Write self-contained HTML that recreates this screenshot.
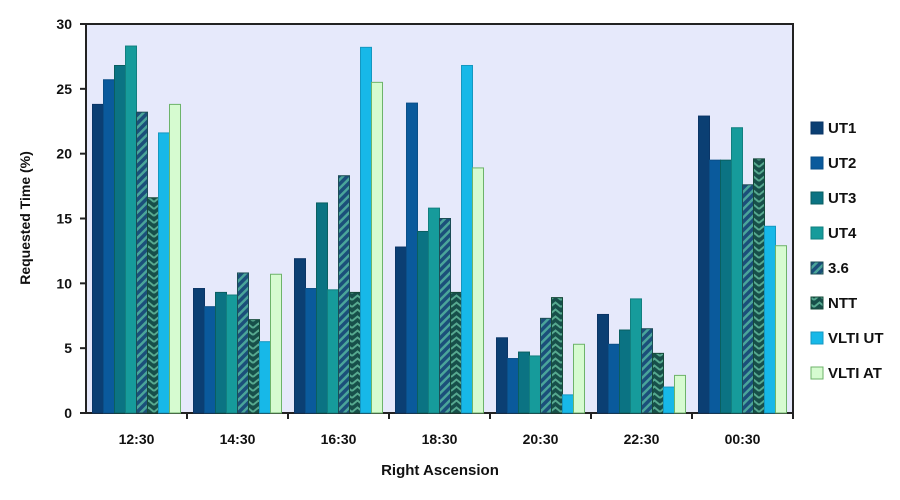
<!DOCTYPE html>
<html><head><meta charset="utf-8"><style>
html,body{margin:0;padding:0;background:#fff;}
svg{display:block;font-family:"Liberation Sans",sans-serif;}
</style></head><body>
<svg id="chart" width="900" height="500">
<defs>
<pattern id="p36" width="6" height="6" patternUnits="userSpaceOnUse" patternTransform="rotate(45)">
<rect width="6" height="6" fill="#1b4f7a"/><rect width="2.5" height="6" fill="#4aa59a"/>
</pattern>
<pattern id="pntt" width="11" height="7" patternUnits="userSpaceOnUse">
<rect width="11" height="7" fill="#174f4a"/>
<path d="M0,6 L5.5,1.5 L11,6" fill="none" stroke="#56a98f" stroke-width="2"/>
</pattern>
</defs>
<rect x="86" y="24" width="707" height="389" fill="#e6e9fb" stroke="#222" stroke-width="2"/>
<g id="bars"></g>
<g id="axes"></g>
<text x="30" y="218" transform="rotate(-90 30 218)" text-anchor="middle" font-size="14" font-weight="bold" fill="#111">Requested Time (%)</text>
<text x="440" y="475" text-anchor="middle" font-size="15" font-weight="bold" fill="#111">Right Ascension</text>
<g id="legend"></g>
</svg>
<script>
const categories = ["12:30","14:30","16:30","18:30","20:30","22:30","00:30"];
const seriesNames = ["UT1","UT2","UT3","UT4","3.6","NTT","VLTI UT","VLTI AT"];
const UT1 = [23.8, 9.6, 11.9, 12.8, 5.8, 7.6, 22.9];
const UT2 = [25.7, 8.2, 9.6, 23.9, 4.2, 5.3, 19.5];
const UT3 = [26.8, 9.3, 16.2, 14.0, 4.7, 6.4, 19.5];
const UT4 = [28.3, 9.1, 9.5, 15.8, 4.4, 8.8, 22.0];
const T36 = [23.2, 10.8, 18.3, 15.0, 7.3, 6.5, 17.6];
const NTT = [16.6, 7.2, 9.3, 9.3, 8.9, 4.6, 19.6];
const VLTIUT = [21.6, 5.5, 28.2, 26.8, 1.4, 2.0, 14.4];
const VLTIAT = [23.8, 10.7, 25.5, 18.9, 5.3, 2.9, 12.9];
const yTicks = [0,5,10,15,20,25,30];

const series = [UT1,UT2,UT3,UT4,T36,NTT,VLTIUT,VLTIAT];
const fills = ["#0b3f73","#0a5a9c","#0b7383","#169b9b","url(#p36)","url(#pntt)","#17b8e8","#d6fbd0"];
const strokes = ["#0b3566","#0a4f88","#0a5f60","#127f7f","#1c4d55","#164a3a","#1597c0","#6db36a"];
const NS="http://www.w3.org/2000/svg";
const L=86,T=24,W=707,H=389,ymax=30;
const gw=W/categories.length, bw=11;
const y=v=>T+H-v/ymax*H;
const xg=i=>L+i*gw;
const bars=document.getElementById('bars'), axes=document.getElementById('axes'), leg=document.getElementById('legend');
function mk(tag,attrs,parent){const e=document.createElementNS(NS,tag);for(const k in attrs)e.setAttribute(k,attrs[k]);parent.appendChild(e);return e;}
categories.forEach((c,i)=>{
  const start=xg(i)+(gw-bw*series.length)/2;
  series.forEach((s,j)=>{
    const r=mk('rect',{x:start+j*bw,y:y(s[i]),width:bw,height:y(0)-y(s[i]),fill:fills[j],stroke:strokes[j],'stroke-width':1},bars);
    
    
  });
  const t=mk('text',{x:xg(i)+gw/2,y:444,'text-anchor':'middle','font-size':14,'font-weight':'bold',fill:'#111'},axes);
  t.textContent=c;
  
  
  const tk=mk('line',{x1:xg(i+1),x2:xg(i+1),y1:413,y2:419,stroke:'#222','stroke-width':2},axes);
  
  
});
yTicks.forEach(v=>{
  const tk=mk('line',{x1:80,x2:86,y1:y(v),y2:y(v),stroke:'#222','stroke-width':2},axes);
  
  
  const t=mk('text',{x:72,y:y(v)+5,'text-anchor':'end','font-size':14,'font-weight':'bold',fill:'#111'},axes);
  t.textContent=v;
  
  
});
seriesNames.forEach((n,j)=>{
  const g=mk('g',{},leg);
  
  
  const yy=128+j*35;
  mk('rect',{x:811,y:yy-6,width:12,height:12,fill:fills[j],stroke:strokes[j],'stroke-width':1},g);
  const t=mk('text',{x:828,y:yy+5,'font-size':15,'font-weight':'bold',fill:'#111'},g);
  t.textContent=n;
});
</script>
</body></html>
